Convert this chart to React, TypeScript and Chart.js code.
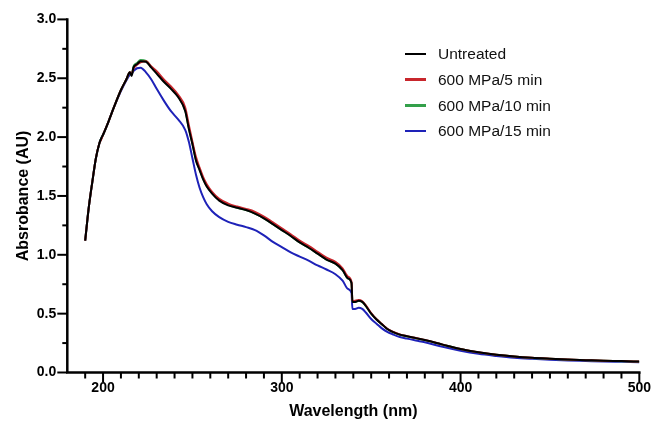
import React, { useEffect, useRef } from "react";
import { Chart, registerables } from "chart.js";

Chart.register(...registerables);

const wavelengths = [
  190, 192, 194, 196, 198, 199, 200, 203, 206, 210, 213, 215, 216, 217, 219, 221, 224,
  227, 230, 234, 238, 242, 246, 248, 250, 252, 254, 256, 258, 261, 265, 270, 275, 280,
  285, 290, 295, 300, 305, 310, 315, 320, 325, 330, 334, 337, 339, 339.5, 341, 343, 345,
  347, 350, 353, 356, 359, 362, 366, 370, 375, 380, 390, 400, 410, 420, 430, 440, 450,
  460, 470, 480, 490, 500,
];

const untreated = [
  1.12, 1.4, 1.62, 1.82, 1.95, 1.99, 2.02, 2.13, 2.25, 2.4, 2.49, 2.55, 2.52, 2.59, 2.62, 2.645, 2.64,
  2.59, 2.54, 2.47, 2.41, 2.34, 2.22, 2.07, 1.94, 1.8, 1.72, 1.64, 1.58, 1.52, 1.46, 1.42, 1.4, 1.38,
  1.35, 1.31, 1.26, 1.21, 1.16, 1.105, 1.06, 1.01, 0.96, 0.925, 0.87, 0.8, 0.76, 0.6, 0.6, 0.61, 0.6,
  0.565, 0.5, 0.45, 0.41, 0.37, 0.345, 0.322, 0.308, 0.292, 0.276, 0.237, 0.2, 0.172, 0.151, 0.136, 0.125, 0.117,
  0.11, 0.105, 0.1, 0.097, 0.093,
];

const mpa5 = [
  1.12, 1.4, 1.62, 1.82, 1.95, 1.98, 2.02, 2.13, 2.25, 2.4, 2.49, 2.55, 2.54, 2.58, 2.615, 2.635, 2.645,
  2.6, 2.56, 2.49, 2.43, 2.36, 2.25, 2.1, 1.96, 1.83, 1.74, 1.66, 1.6, 1.535, 1.475, 1.435, 1.41, 1.39,
  1.365, 1.325, 1.275, 1.225, 1.175, 1.12, 1.075, 1.025, 0.975, 0.94, 0.885, 0.815, 0.77, 0.605, 0.61, 0.615, 0.605,
  0.57, 0.505, 0.452, 0.412, 0.372, 0.347, 0.324, 0.309, 0.293, 0.277, 0.237, 0.2, 0.172, 0.151, 0.136, 0.125, 0.117,
  0.11, 0.105, 0.1, 0.097, 0.093,
];

const mpa10 = [
  1.12, 1.4, 1.62, 1.82, 1.95, 1.99, 2.02, 2.13, 2.25, 2.4, 2.49, 2.55, 2.53, 2.6, 2.63, 2.655, 2.648,
  2.595, 2.545, 2.475, 2.415, 2.345, 2.225, 2.075, 1.945, 1.805, 1.725, 1.645, 1.585, 1.525, 1.465, 1.425, 1.4, 1.38,
  1.35, 1.31, 1.26, 1.21, 1.16, 1.105, 1.06, 1.01, 0.96, 0.925, 0.87, 0.8, 0.76, 0.6, 0.6, 0.61, 0.6,
  0.565, 0.5, 0.45, 0.41, 0.37, 0.345, 0.321, 0.307, 0.291, 0.275, 0.236, 0.199, 0.171, 0.15, 0.135, 0.124, 0.116,
  0.109, 0.104, 0.099, 0.096, 0.092,
];

const mpa15 = [
  1.12, 1.4, 1.62, 1.82, 1.95, 1.99, 2.02, 2.13, 2.25, 2.39, 2.48, 2.53, 2.54, 2.56, 2.585, 2.59, 2.55,
  2.49, 2.41, 2.31, 2.22, 2.15, 2.06, 1.96, 1.82, 1.68, 1.57, 1.49, 1.43, 1.37, 1.32, 1.28, 1.256, 1.235,
  1.21, 1.165, 1.11, 1.065, 1.02, 0.985, 0.95, 0.91, 0.875, 0.835, 0.78, 0.71, 0.675, 0.54, 0.54, 0.55, 0.54,
  0.51, 0.455, 0.415, 0.375, 0.345, 0.325, 0.302, 0.288, 0.272, 0.257, 0.218, 0.185, 0.159, 0.141, 0.126, 0.116, 0.108,
  0.102, 0.098, 0.094, 0.091, 0.088,
];

const seriesNames = ["Untreated", "600 MPa/5 min", "600 MPa/10 min", "600 MPa/15 min"];
const seriesValues = [untreated, mpa5, mpa10, mpa15];
const seriesColors = ["#000000", "#c8262c", "#33a04a", "#1e22b8"];

const xTickValues = [200, 300, 400, 500];
const yTickValues = [0, 0.5, 1.0, 1.5, 2.0, 2.5, 3.0];

const xTitle = "Wavelength (nm)";
const yTitle = "Absrobance (AU)";

const FONT = '"Liberation Sans", Arial, Helvetica, sans-serif';

export default function App() {
  const ref = useRef<HTMLCanvasElement>(null);

  useEffect(() => {
    const canvas = ref.current;
    if (!canvas) return;

    const axesPlugin = {
      id: "axesPlugin",
      afterDatasetsDraw(chart: any) {
        const { ctx } = chart;
        const xs = chart.scales.x;
        const ys = chart.scales.y;
        const x0 = xs.getPixelForValue(xs.min);
        const x1 = xs.getPixelForValue(xs.max);
        const y0 = ys.getPixelForValue(ys.min);
        const y1 = ys.getPixelForValue(ys.max);
        ctx.save();
        ctx.strokeStyle = "#000";
        ctx.lineWidth = 2.5;
        ctx.lineCap = "square";
        ctx.beginPath();
        ctx.moveTo(x0, y1);
        ctx.lineTo(x0, y0);
        ctx.lineTo(x1, y0);
        ctx.stroke();
        ctx.lineCap = "butt";
        ctx.lineWidth = 2;
        for (let v = 190; v <= 500; v += 10) {
          const px = xs.getPixelForValue(v);
          const major = v % 100 === 0;
          ctx.beginPath();
          ctx.moveTo(px, y0);
          ctx.lineTo(px, y0 + (major ? 10 : 6));
          ctx.stroke();
        }
        for (let i = 0; i <= 12; i++) {
          const py = ys.getPixelForValue(i * 0.25);
          const major = i % 2 === 0;
          ctx.beginPath();
          ctx.moveTo(x0, py);
          ctx.lineTo(x0 - (major ? 10 : 5), py);
          ctx.stroke();
        }
        ctx.restore();
      },
    };

    const chart = new Chart(canvas, {
      type: "line",
      data: {
        datasets: seriesNames.map((name, i) => ({
          label: name,
          data: wavelengths.map((w, j) => ({ x: w, y: seriesValues[i][j] })),
          borderColor: seriesColors[i],
          backgroundColor: seriesColors[i],
          borderWidth: 2,
          pointRadius: 0,
          fill: false,
          cubicInterpolationMode: "monotone",
        })),
      },
      options: {
        animation: false,
        responsive: false,
        maintainAspectRatio: false,
        layout: { padding: { top: 16.7, right: 14.7, left: 0, bottom: 0 } },
        plugins: { legend: { display: false }, tooltip: { enabled: false } },
        scales: {
          x: {
            type: "linear",
            min: 180,
            max: 500,
            grid: { display: false, drawTicks: false },
            border: { display: false },
            afterBuildTicks: (s: any) => {
              s.ticks = xTickValues.map((v) => ({ value: v }));
            },
            afterFit: (s: any) => {
              s.height = 52.5;
            },
            ticks: {
              font: { family: FONT, size: 14, weight: "bold" },
              color: "#000",
              padding: 7,
              maxRotation: 0,
              autoSkip: false,
              callback: (v: any) => String(v),
            },
            title: {
              display: true,
              text: xTitle,
              font: { family: FONT, size: 16, weight: "bold" },
              color: "#000",
              padding: { top: 0, bottom: 4 },
            },
          },
          y: {
            type: "linear",
            min: 0,
            max: 3,
            grid: { display: false, drawTicks: false },
            border: { display: false },
            afterBuildTicks: (s: any) => {
              s.ticks = yTickValues.map((v) => ({ value: v }));
            },
            afterFit: (s: any) => {
              s.width = 67.3;
            },
            ticks: {
              font: { family: FONT, size: 14, weight: "bold" },
              color: "#000",
              padding: 11,
              autoSkip: false,
              callback: (v: any) => Number(v).toFixed(1),
            },
            title: {
              display: true,
              text: yTitle,
              font: { family: FONT, size: 16, weight: "bold" },
              color: "#000",
              padding: { top: 14, bottom: 0 },
            },
          },
        },
      },
      plugins: [axesPlugin],
    } as any);

    return () => chart.destroy();
  }, []);

  const legendTop = [54, 79.5, 105.5, 131];

  return (
    <div style={{ position: "absolute", left: 0, top: 0, width: 658, height: 425, background: "#fff" }}>
      <canvas ref={ref} width={658} height={425} style={{ display: "block", width: 658, height: 425 }} />
      {seriesNames.map((name, i) => (
        <div
          key={name}
          style={{
            position: "absolute",
            left: 405,
            top: legendTop[i] - 10,
            height: 20,
            display: "flex",
            alignItems: "center",
            fontFamily: FONT,
            fontSize: 15.5,
            color: "#111",
            whiteSpace: "nowrap",
          }}
        >
          <span style={{ display: "inline-block", width: 21, height: 2.5, background: seriesColors[i], marginRight: 12 }} />
          <span>{name}</span>
        </div>
      ))}
    </div>
  );
}
